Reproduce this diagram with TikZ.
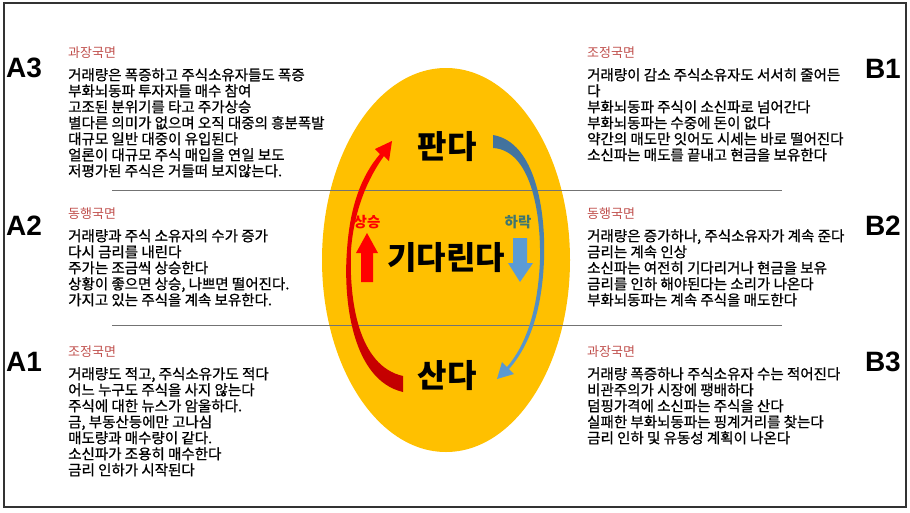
\documentclass[tikz,border=0pt]{standalone}
\usepackage{fontspec}
\setmainfont{Noto Sans CJK KR}
\newfontfamily\bodyfont{Noto Sans CJK KR}[FakeBold=0.8]
\newfontfamily\tagfont{Liberation Sans}
\usetikzlibrary{positioning, shapes.geometric}
\definecolor{eggyolk}{HTML}{FFC000}
\definecolor{phasered}{HTML}{C0504D}
\definecolor{risered}{HTML}{FF0000}
\definecolor{deepred}{HTML}{C00000}
\definecolor{fallblue}{HTML}{5B9BD5}
\definecolor{deepblue}{HTML}{41719C}
\definecolor{fallteal}{RGB}{62,118,112}
\definecolor{rulegray}{gray}{0.45}

\begin{document}
\begin{tikzpicture}[
  x=1pt, y=-1pt,
  phase/.style={anchor=west, inner sep=0pt, text=phasered, font=\fontsize{13}{15}\selectfont},
  body/.style={anchor=north west, inner sep=0pt, align=left, font=\bodyfont\fontsize{14.5}{16}\selectfont},
  tag/.style={inner sep=0pt, font=\tagfont\bfseries\fontsize{28}{30}\selectfont},
  verb/.style={inner sep=0pt, font=\bfseries\fontsize{32}{34}\selectfont},
  trend/.style={inner sep=0pt, font=\bfseries\fontsize{14.5}{16}\selectfont},
  divider/.style={draw=rulegray, line width=0.8pt}
]
  \useasboundingbox (0,0) rectangle (910,512);
  \draw[line width=1.2pt, draw=black!80] (4,3) rectangle (906,507);

  % Ellipse in the middle
  \node[ellipse, fill=eggyolk, minimum width=248pt, minimum height=384pt, inner sep=0pt]
    (egg) at (446,260) {};

  % Dividers
  \draw[divider] (112,190) -- (782,190);
  \draw[divider] (112,325) -- (782,325);

  % Rising arrow (left)
  \shade[top color=risered, bottom color=deepred]
    (403,392) .. controls (352,380) and (343,300) .. (347,250)
    .. controls (350,205) and (362,175) .. (380,154)
    -- (375,149) -- (392,141) -- (389,161) -- (384,156)
    .. controls (368,178) and (354,210) .. (351,250)
    .. controls (349,300) and (358,366) .. (403,376) -- cycle;

  % Falling arrow (right)
  \shade[top color=deepblue, bottom color=fallblue]
    (493,135) .. controls (535,142) and (546,210) .. (544,260)
    .. controls (542,310) and (530,345) .. (509,369)
    -- (514,374) -- (497,379) -- (502,362) -- (507,367)
    .. controls (526,345) and (538,310) .. (540,260)
    .. controls (541,210) and (530,150) .. (493,148) -- cycle;

  % Small arrows
  \fill[risered] (361,282) -- (361,253) -- (356,253) -- (367,233) -- (378,253) -- (373,253) -- (373,282) -- cycle;
  \fill[fallblue] (513,238) -- (513,263) -- (508,263) -- (520,282) -- (533,263) -- (527,263) -- (527,238) -- cycle;

  % Centre words
  \node[verb] (sell) at (447,147) {판다};
  \node[verb] (wait) at (446,258) {기다린다};
  \node[verb] (buy) at (447,376) {산다};
  \node[trend, text=risered] (rise) at (367,222) {상승};
  \node[trend, text=fallteal] (fall) at (518,222) {하락};

  % Left side
  \node[tag, anchor=west] (a3) at (6,68) {A3};
  \node[phase] (ph-a3) at (68,53) {과장국면};
  \node[body, below=9pt of ph-a3.south west, anchor=north west] (tx-a3)
    {거래량은 폭증하고 주식소유자들도 폭증\\
     부화뇌동파 투자자들 매수 참여\\
     고조된 분위기를 타고 주가상승\\
     별다른 의미가 없으며 오직 대중의 흥분폭발\\
     대규모 일반 대중이 유입된다\\
     얼론이 대규모 주식 매입을 연일 보도\\
     저평가된 주식은 거들떠 보지않는다.};

  \node[tag, anchor=west] (a2) at (6,226) {A2};
  \node[phase] (ph-a2) at (68,214) {동행국면};
  \node[body, below=9pt of ph-a2.south west, anchor=north west] (tx-a2)
    {거래량과 주식 소유자의 수가 증가\\
     다시 금리를 내린다\\
     주가는 조금씩 상승한다\\
     상황이 좋으면 상승, 나쁘면 떨어진다.\\
     가지고 있는 주식을 계속 보유한다.};

  \node[tag, anchor=west] (a1) at (6,362) {A1};
  \node[phase] (ph-a1) at (68,352) {조정국면};
  \node[body, below=9pt of ph-a1.south west, anchor=north west] (tx-a1)
    {거래량도 적고, 주식소유가도 적다\\
     어느 누구도 주식을 사지 않는다\\
     주식에 대한 뉴스가 암울하다.\\
     금, 부동산등에만 고나심\\
     매도량과 매수량이 같다.\\
     소신파가 조용히 매수한다\\
     금리 인하가 시작된다};

  % Right side
  \node[tag, anchor=east] (b1) at (901,69) {B1};
  \node[phase] (ph-b1) at (587,53) {조정국면};
  \node[body, below=9pt of ph-b1.south west, anchor=north west] (tx-b1)
    {거래량이 감소 주식소유자도 서서히 줄어든\\
     다\\
     부화뇌동파 주식이 소신파로 넘어간다\\
     부화뇌동파는 수중에 돈이 없다\\
     약간의 매도만 잇어도 시세는 바로 떨어진다\\
     소신파는 매도를 끝내고 현금을 보유한다};

  \node[tag, anchor=east] (b2) at (901,226) {B2};
  \node[phase] (ph-b2) at (587,214) {동행국면};
  \node[body, below=9pt of ph-b2.south west, anchor=north west] (tx-b2)
    {거래량은 증가하나, 주식소유자가 계속 준다\\
     금리는 계속 인상\\
     소신파는 여전히 기다리거나 현금을 보유\\
     금리를 인하 해야된다는 소리가 나온다\\
     부화뇌동파는 계속 주식을 매도한다};

  \node[tag, anchor=east] (b3) at (901,362) {B3};
  \node[phase] (ph-b3) at (587,352) {과장국면};
  \node[body, below=9pt of ph-b3.south west, anchor=north west] (tx-b3)
    {거래량 폭증하나 주식소유자 수는 적어진다\\
     비관주의가 시장에 팽배하다\\
     덤핑가격에 소신파는 주식을 산다\\
     실패한 부화뇌동파는 핑계거리를 찾는다\\
     금리 인하 및 유동성 계획이 나온다};
\end{tikzpicture}
\end{document}
